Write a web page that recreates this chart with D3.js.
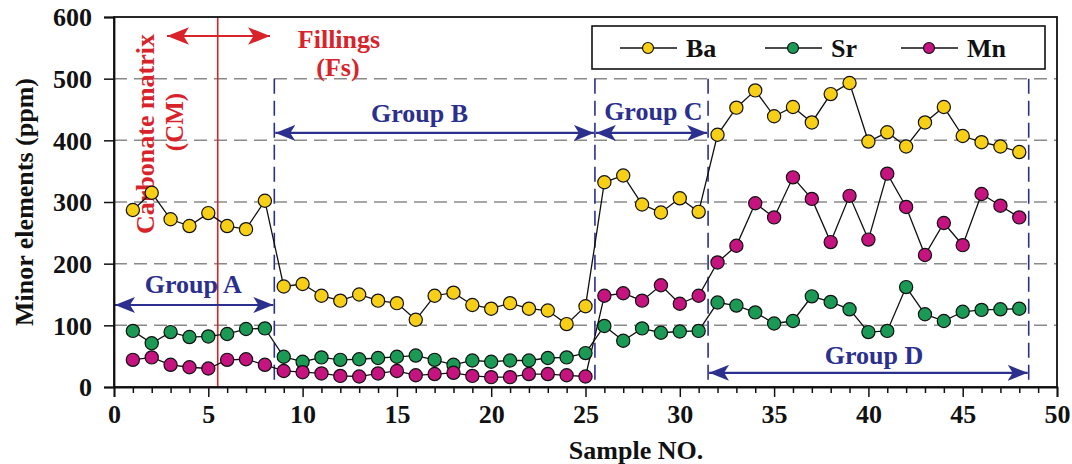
<!DOCTYPE html>
<html><head><meta charset="utf-8">
<script src="https://cdn.jsdelivr.net/npm/d3@7"></script>
<style>body{margin:0;background:#fff}svg{display:block}text{font-family:"Liberation Serif","Times New Roman",serif;font-weight:bold}</style>
</head><body><svg id="c" width="1072" height="464"></svg>
<script>
const samples = d3.range(1, 49);
const Ba = [287,315,272,261,282,261,256,302,163,167,148,140,150,140,136,109,148,153,133,127,136,127,124,102,131,332,343,296,283,306,284,409,453,481,439,454,429,475,493,398,413,390,429,454,407,397,390,381];
const Sr = [91,71,89,81,82,86,94,95,49,41,48,44,45,47,49,51,44,36,43,41,43,43,47,48,55,99,75,95,88,90,91,137,132,121,103,107,147,138,126,89,91,162,118,107,122,125,126,127];
const Mn = [44,48,36,32,30,44,45,36,26,24,22,18,17,22,26,19,21,23,18,16,16,21,21,19,17,148,152,140,165,135,148,202,229,298,275,340,305,235,310,239,346,292,214,266,230,313,294,275];
const seriesNames = ["Ba","Sr","Mn"];
const seriesColors = ["#f7cf17","#1a9a55","#c5137f"];
const xTicks = [0,5,10,15,20,25,30,35,40,45,50];
const yTicks = [0,100,200,300,400,500,600];
const groupBounds = [8.5, 25.5, 31.5, 48.5];
const groups = [
  {name:"Group A", x0:0, x1:8.5, yv:133, tx:4.2, ty:153},
  {name:"Group B", x0:8.5, x1:25.5, yv:412, tx:16.2, ty:430},
  {name:"Group C", x0:25.5, x1:31.5, yv:412, tx:28.6, ty:433},
  {name:"Group D", x0:31.5, x1:48.5, yv:23, tx:40.3, ty:37}
];
const cmLine = 5.5;

const W=1072,H=464, m={l:114,t:17,r:15,b:77};
const svg=d3.select("#c");
const x=d3.scaleLinear().domain([0,50]).range([m.l,W-m.r]);
const y=d3.scaleLinear().domain([0,600]).range([H-m.b,m.t]);
const navy="#2b2f8e", red="#d8232a";

const defs=svg.append("defs");
function mk(id,col,w,h){
  defs.append("marker").attr("id",id).attr("viewBox","0 0 20 16").attr("refX",20).attr("refY",8)
   .attr("markerWidth",w).attr("markerHeight",h).attr("markerUnits","userSpaceOnUse").attr("orient","auto-start-reverse")
   .append("path").attr("d","M0,0 L20,8 L0,16 L5,8 Z").attr("fill",col);
}
mk("an",navy,20,16); mk("ar",red,22,18);

// grid
svg.append("g").selectAll("line").data(yTicks.filter(v=>v>0&&v<600)).join("line")
 .attr("x1",m.l).attr("x2",W-m.r).attr("y1",d=>y(d)).attr("y2",d=>y(d))
 .attr("stroke","#8a8a8a").attr("stroke-width",1.5).attr("stroke-dasharray","13,7");

// group dashed verticals
svg.append("g").selectAll("line").data(groupBounds).join("line")
 .attr("x1",d=>x(d)).attr("x2",d=>x(d)).attr("y1",y(500)).attr("y2",y(0))
 .attr("stroke",navy).attr("stroke-width",1.6).attr("stroke-dasharray","15,7");

// red CM line
svg.append("line").attr("x1",x(cmLine)).attr("x2",x(cmLine)).attr("y1",y(600)).attr("y2",y(0))
 .attr("stroke",red).attr("stroke-width",1.6);

// group arrows & labels
groups.forEach(g=>{
  svg.append("line").attr("x1",x(g.x0)+1).attr("x2",x(g.x1)-1).attr("y1",y(g.yv)).attr("y2",y(g.yv))
   .attr("stroke",navy).attr("stroke-width",2.2).attr("marker-start","url(#an)").attr("marker-end","url(#an)");
  svg.append("text").attr("x",x(g.tx)).attr("y",y(g.ty)).attr("text-anchor","middle")
   .attr("font-size",26).attr("fill",navy).text(g.name);
});

// red arrow + labels
svg.append("line").attr("x1",167).attr("x2",270).attr("y1",36).attr("y2",36)
 .attr("stroke",red).attr("stroke-width",2).attr("marker-start","url(#ar)").attr("marker-end","url(#ar)");
svg.append("text").attr("x",339).attr("y",48).attr("text-anchor","middle").attr("font-size",26).attr("fill",red).text("Fillings");
svg.append("text").attr("x",338).attr("y",76).attr("text-anchor","middle").attr("font-size",26).attr("fill",red).text("(Fs)");
svg.append("text").attr("transform","translate(154,134) rotate(-90)").attr("text-anchor","middle").attr("font-size",26).attr("fill",red).text("Carbonate matrix");
svg.append("text").attr("transform","translate(183,122) rotate(-90)").attr("text-anchor","middle").attr("font-size",25).attr("fill",red).text("(CM)");

// series
const data=[Ba,Sr,Mn];
const line=d3.line().x((d,i)=>x(samples[i])).y(d=>y(d));
data.forEach((vals,k)=>{
  svg.append("path").datum(vals).attr("d",line).attr("fill","none").attr("stroke","#111").attr("stroke-width",1.3);
});
data.forEach((vals,k)=>{
  svg.append("g").selectAll("circle").data(vals).join("circle")
   .attr("cx",(d,i)=>x(samples[i])).attr("cy",d=>y(d)).attr("r",6.6)
   .attr("fill",seriesColors[k]).attr("stroke","#111").attr("stroke-width",1.2);
});

// axes
const xa=svg.append("g").attr("transform",`translate(0,${y(0)})`)
 .call(d3.axisBottom(x).tickValues(xTicks).tickSize(10).tickPadding(8).tickFormat(d3.format("d")));
svg.append("g").attr("transform",`translate(0,${y(0)})`)
 .call(d3.axisBottom(x).tickValues(d3.range(0,51).filter(v=>v%5)).tickSize(6).tickFormat(""))
 .call(g=>g.select(".domain").remove());
const ya=svg.append("g").attr("transform",`translate(${m.l},0)`)
 .call(d3.axisLeft(y).tickValues(yTicks).tickSize(10).tickPadding(12));
svg.selectAll(".tick line").attr("stroke","#111").attr("stroke-width",1.5);
svg.selectAll(".domain").attr("stroke","#111").attr("stroke-width",1.8);
xa.selectAll("text").attr("font-size",26).attr("fill","#111");
ya.selectAll("text").attr("font-size",26).attr("fill","#111").attr("dy","0.34em");
xa.attr("font-family",null); ya.attr("font-family",null);

// frame
svg.append("rect").attr("x",m.l).attr("y",m.t).attr("width",W-m.r-m.l).attr("height",y(0)-m.t)
 .attr("fill","none").attr("stroke","#111").attr("stroke-width",1.8);

// axis titles
svg.append("text").attr("x",636).attr("y",459).attr("text-anchor","middle").attr("font-size",26).attr("fill","#111").text("Sample NO.");
svg.append("text").attr("transform",`translate(33,${(m.t+y(0))/2}) rotate(-90)`).attr("text-anchor","middle").attr("font-size",26).attr("fill","#111").text("Minor elements (ppm)");

// legend
const lg=svg.append("g");
lg.append("rect").attr("x",592).attr("y",26).attr("width",453).attr("height",43).attr("fill","#fff").attr("stroke","#111").attr("stroke-width",1.6);
const lx=[620,765,901];
seriesNames.forEach((n,k)=>{
  lg.append("line").attr("x1",lx[k]).attr("x2",lx[k]+57).attr("y1",48).attr("y2",48).attr("stroke","#111").attr("stroke-width",1.3);
  lg.append("circle").attr("cx",lx[k]+28).attr("cy",48).attr("r",5.5).attr("fill",seriesColors[k]).attr("stroke","#111").attr("stroke-width",1.2);
  lg.append("text").attr("x",lx[k]+66).attr("y",57).attr("font-size",26).attr("fill","#111").text(n);
});
</script></body></html>
